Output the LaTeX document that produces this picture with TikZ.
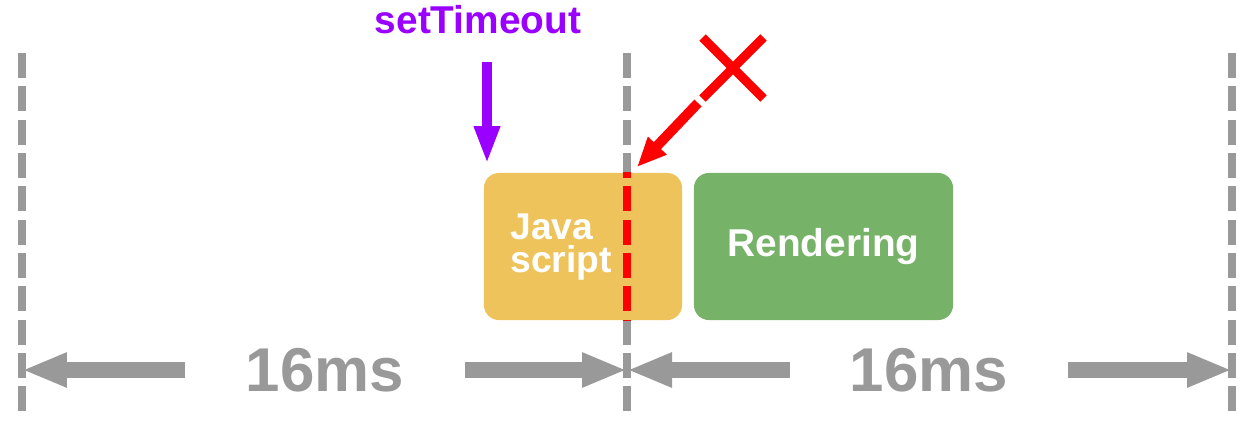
\documentclass[tikz,border=0pt]{standalone}
\usepackage{fontspec}
\setmainfont{Liberation Sans}
\usepackage{tikz}
\usetikzlibrary{arrows.meta}
\usetikzlibrary{calc}
\usetikzlibrary{positioning}
\usetikzlibrary{shapes.misc}
\definecolor{tickgray}{HTML}{999999}
\definecolor{jsyellow}{HTML}{EFC35B}
\definecolor{rendergreen}{HTML}{76B267}
\definecolor{timeoutpurple}{HTML}{9900FF}
\tikzset{>=Triangle}

\begin{document}
\begin{tikzpicture}[
        x=0.025cm, y=-0.025cm,
        tick/.style={tickgray,line width=5.7pt,dash pattern=on 17.7pt off 6pt},
        task/.style={rounded corners=10.6pt,minimum height=3.675cm,inner sep=0pt,
            text=white,font=\bfseries\fontsize{27.6}{30}\selectfont},
        tasklabel/.style={inner sep=0pt,text=white,align=left,font=\bfseries\fontsize{26.5}{23.4}\selectfont},
        span/.style={text=tickgray,minimum width=7cm,inner sep=0pt,
            font=\bfseries\fontsize{44}{44}\selectfont},
        lenarrow/.style={line width=11.3pt,tickgray,-{Triangle[length=32pt,width=22.7pt]}}
    ]
    \useasboundingbox (0,0) rectangle (1254,422);

    % frame ticks
    \coordinate (t0) at (22,53);   \coordinate (b0) at (22,412);
    \coordinate (t1) at (627,53);  \coordinate (b1) at (627,412);
    \coordinate (t2) at (1232,53); \coordinate (b2) at (1232,412);
    \draw[tick] (t0) -- (b0);
    \draw[tick] (t1) -- (b1);
    \draw[tick] (t2) -- (b2);

    % tasks
    \node[task,fill=jsyellow,minimum width=4.95cm] (js) at (583,246.5) {};
    \node[task,fill=rendergreen,minimum width=6.475cm] (render) at (823.5,246.5) {Rendering};
    \node[tasklabel,anchor=west] (jslbl) at (510,247) {Java\\script};

    % overrun
    \begin{scope}
        \clip (js.north west) rectangle (js.south east);
        \draw[tick,red] (t1) -- (b1);
    \end{scope}

    % setTimeout
    \node[text=timeoutpurple,font=\bfseries\fontsize{27.6}{30}\selectfont] (timeout) at (478,20) {setTimeout};
    \coordinate (drop) at (487,62);
    \coordinate (start) at (487,164);
    \draw[timeoutpurple,line width=7.1pt,-{Triangle[length=27pt,width=17pt]}] (drop) -- (start);

    % cut off
    \node[cross out,draw=red,line width=6.4pt,minimum size=1.3cm,inner sep=0pt] (no) at (733,68) {};
    \coordinate (hint) at (698,103);
    \coordinate (cut) at (637,167);
    \draw[red,line width=7.1pt,-{Triangle[length=21pt,width=17pt]}] (hint) -- (cut);

    % frame lengths
    \node[span] (len1) at (325,370) {16ms};
    \node[span,minimum width=6.95cm] (len2) at (929,370) {16ms};
    \path[lenarrow] (len1.west) edge (b0 |- len1);
    \path[lenarrow] (len1.east) edge (b1 |- len1);
    \path[lenarrow] (len2.west) edge (b1 |- len2);
    \path[lenarrow] (len2.east) edge (b2 |- len2);
\end{tikzpicture}
\end{document}
